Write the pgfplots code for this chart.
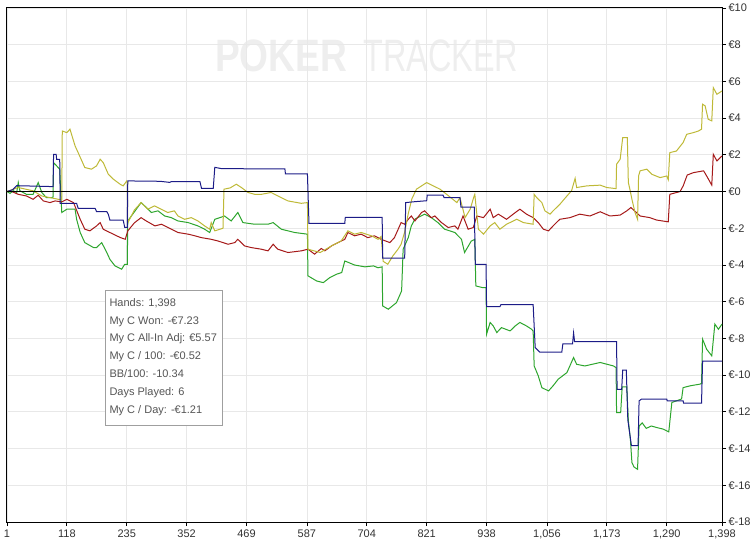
\documentclass[border=0pt]{standalone}
\usepackage{fontspec}
\setmainfont{Liberation Sans}
\usepackage{pgfplots}
\pgfplotsset{compat=1.18}
\definecolor{cBlue}{RGB}{28,28,135}
\definecolor{cGreen}{RGB}{45,165,45}
\definecolor{cRed}{RGB}{165,25,25}
\definecolor{cYel}{RGB}{190,185,55}
\definecolor{gridc}{RGB}{232,232,232}
\definecolor{wm}{RGB}{238,238,238}
\definecolor{lab}{RGB}{50,50,50}
\definecolor{stat}{RGB}{85,85,85}
\begin{document}
\begin{tikzpicture}
\useasboundingbox (-7bp,-23bp) rectangle (745bp,522bp);
\node[anchor=south west, inner sep=0, text=wm] at (208bp,450.3bp) {\resizebox{132bp}{31.7bp}{\bfseries POKER}};
\node[anchor=south west, inner sep=0, text=wm] at (356bp,450.3bp) {\resizebox{155bp}{31.7bp}{TRACKER}};
\begin{axis}[
  scale only axis, width=715bp, height=514bp,
  at={(0,0)}, anchor=south west,
  xmin=1, xmax=1398, ymin=-18, ymax=10,
  xtick={1,118,235,352,469,587,704,821,938,1056,1173,1290,1398},
  xticklabels={1,118,235,352,469,587,704,821,938,{1,056},{1,173},{1,290},{1,398}},
  ytick={-18,-16,-14,-12,-10,-8,-6,-4,-2,0,2,4,6,8,10},
  yticklabels={€-18,€-16,€-14,€-12,€-10,€-8,€-6,€-4,€-2,€0,€2,€4,€6,€8,€10},
  xtick pos=left, ytick pos=right,
  yticklabel pos=right,
  tick align=outside, major tick length=4bp,
  tick style={black, line width=0.8bp},
  grid=major, grid style={line width=0.8bp, color=gridc},
  axis line style={black, line width=1bp},
  ticklabel style={font=\fontsize{11bp}{13bp}\selectfont, text=lab},
  yticklabel style={anchor=west, xshift=-1bp},
]
\addplot[cGreen, line width=1bp] coordinates {(1,0) (7,-0.1) (13,0.05) (20,-0.05) (23,0.49) (26,0.05) (39,-0.15) (52,-0.15) (62,0.49) (69,-0.05) (78,-0.33) (88,-0.33) (91,-0.3) (92,1.58) (98,1.4) (104,1.22) (108,-1.14) (118,-0.96) (134,-0.96) (137,-1.51) (144,-2.23) (153,-2.78) (170,-3.05) (176,-3.05) (186,-2.78) (196,-3.32) (202,-3.69) (212,-4.05) (225,-4.23) (231,-3.96) (236,-3.96) (237,-1.6) (250,-1.1) (263,-0.6) (270,-0.78) (283,-1.14) (296,-1.05) (309,-1.33) (322,-1.42) (335,-1.6) (355,-1.69) (374,-1.87) (387,-2.05) (397,-2.23) (407,-1.51) (417,-1.42) (426,-1.33) (439,-1.6) (452,-1.14) (462,-1.69) (485,-1.78) (511,-1.78) (521,-1.69) (537,-2.05) (563,-2.23) (588,-2.32) (589,-4.59) (606,-4.87) (619,-4.96) (632,-4.68) (645,-4.5) (655,-4.41) (661,-3.78) (680,-4.0) (700,-4.1) (717,-4.05) (726,-4.15) (734,-4.1) (735,-6.23) (746,-6.41) (762,-6.05) (772,-5.41) (775,-3.14) (785,-2.51) (791,-1.87) (798,-1.5) (817,-1.23) (830,-1.42) (843,-1.69) (856,-2.05) (876,-2.23) (889,-2.6) (895,-3.32) (908,-2.7) (915,-2.6) (917,-5.14) (930,-5.23) (937,-5.23) (938,-7.77) (945,-7.13) (951,-7.32) (958,-7.68) (967,-7.41) (984,-7.59) (994,-7.32) (1003,-7.13) (1016,-7.32) (1026,-7.5) (1029,-7.6) (1031,-9.5) (1039,-10.04) (1046,-10.68) (1059,-10.86) (1068,-10.58) (1078,-10.22) (1095,-9.86) (1108,-9.04) (1114,-9.41) (1130,-9.5) (1160,-9.31) (1186,-9.5) (1191,-9.59) (1192,-12.04) (1200,-12.04) (1203,-10.64) (1212,-10.64) (1215,-12.48) (1219,-13.5) (1222,-14.76) (1226,-15.0) (1233,-15.13) (1236,-12.77) (1242,-12.6) (1250,-12.9) (1260,-12.77) (1270,-12.85) (1283,-12.94) (1294,-13.09) (1300,-11.49) (1309,-11.4) (1319,-11.3) (1322,-10.68) (1336,-10.58) (1355,-10.49) (1358,-10.45) (1360,-8.04) (1368,-8.59) (1378,-8.95) (1384,-7.22) (1391,-7.5) (1398,-7.22)};
\addplot[cRed, line width=1bp] coordinates {(1,0) (7,0.04) (23,-0.15) (39,-0.24) (52,-0.42) (62,-0.2) (72,-0.51) (85,-0.6) (95,-0.51) (108,-0.56) (118,-0.42) (131,-0.6) (144,-1.51) (153,-2.05) (163,-2.14) (176,-1.87) (183,-1.69) (189,-2.05) (202,-2.23) (222,-2.5) (232,-2.6) (237,-2.14) (250,-1.7) (263,-1.42) (273,-1.6) (290,-1.87) (303,-1.78) (322,-2.05) (335,-2.23) (355,-2.32) (368,-2.41) (381,-2.51) (400,-2.6) (413,-2.69) (433,-2.87) (446,-2.78) (452,-2.6) (465,-2.96) (478,-3.05) (498,-3.14) (511,-3.23) (521,-2.87) (530,-3.14) (550,-3.32) (576,-3.23) (589,-3.14) (602,-3.41) (615,-3.1) (622,-3.23) (635,-2.96) (648,-2.78) (661,-2.6) (667,-2.23) (680,-2.41) (693,-2.32) (706,-2.51) (719,-2.41) (732,-2.6) (749,-2.78) (758,-2.51) (771,-1.69) (778,-1.78) (785,-1.51) (791,-1.33) (798,-1.6) (811,-1.14) (817,-1.05) (830,-1.42) (837,-1.33) (850,-1.69) (863,-1.96) (876,-1.87) (882,-2.05) (892,-1.33) (902,-2.05) (912,-1.96) (919,-1.33) (932,-1.42) (945,-0.96) (951,-1.42) (961,-1.23) (977,-1.51) (990,-1.23) (1003,-0.96) (1016,-1.23) (1029,-1.42) (1039,-1.69) (1049,-2.05) (1059,-2.14) (1068,-1.87) (1081,-1.51) (1101,-1.42) (1120,-1.23) (1140,-1.33) (1160,-1.1) (1179,-1.33) (1199,-1.28) (1212,-1.05) (1220,-0.87) (1231,-1.15) (1238,-1.33) (1257,-1.42) (1270,-1.55) (1293,-1.65) (1296,-0.15) (1316,0.0) (1322,0.3) (1330,0.9) (1342,1.03) (1362,1.13) (1368,0.85) (1378,0.35) (1381,2.03) (1388,1.67) (1398,1.94)};
\addplot[cYel, line width=1bp] coordinates {(1,0) (23,0.22) (52,0.04) (69,-0.24) (85,-0.33) (101,-0.42) (108,-0.42) (109,3.3) (118,3.21) (124,3.4) (134,2.49) (140,2.12) (153,1.31) (166,1.22) (176,1.4) (183,1.76) (189,1.58) (199,0.94) (209,0.67) (222,0.4) (228,0.31) (235,0.58) (236,0.5) (237,-1.7) (250,-1.0) (263,-0.6) (276,-0.96) (289,-0.78) (302,-0.96) (315,-1.14) (328,-1.05) (335,-1.33) (348,-1.51) (361,-1.42) (374,-1.6) (387,-1.87) (397,-2.05) (400,-1.69) (407,-2.14) (423,-2.0) (425,0.13) (437,0.2) (449,0.4) (459,0.22) (472,-0.05) (485,-0.15) (498,-0.15) (517,-0.05) (537,-0.33) (550,-0.51) (576,-0.64) (588,-0.6) (589,-3.14) (613,-3.32) (635,-2.96) (654,-2.69) (667,-2.14) (680,-2.32) (693,-2.23) (713,-2.41) (726,-2.6) (732,-2.45) (736,-3.8) (745,-3.96) (755,-3.5) (765,-3.14) (771,-2.87) (778,-2.2) (785,-1.2) (792,-0.4) (801,0.13) (821,0.49) (834,0.31) (847,0.13) (860,-0.15) (880,-0.6) (886,-0.33) (896,-1.42) (906,-0.96) (913,-0.3) (915,-0.15) (922,-2.05) (932,-2.32) (945,-1.87) (954,-1.69) (964,-2.05) (977,-1.78) (997,-1.51) (1010,-1.69) (1029,-1.78) (1031,-0.15) (1036,-0.33) (1046,-0.6) (1052,-1.05) (1062,-1.23) (1068,-1.05) (1081,-0.7) (1095,-0.24) (1104,0.04) (1111,0.72) (1114,0.22) (1134,0.31) (1160,0.35) (1173,0.22) (1191,0.16) (1192,1.49) (1199,1.76) (1204,2.94) (1213,2.94) (1215,0.49) (1218,0.13) (1222,-0.42) (1228,-1.14) (1233,-1.51) (1235,0.85) (1238,1.13) (1251,1.22) (1261,0.94) (1277,0.76) (1290,0.85) (1293,0.64) (1296,2.12) (1309,2.21) (1322,2.67) (1329,3.12) (1342,3.21) (1352,3.3) (1358,3.4) (1360,4.76) (1365,4.67) (1371,3.94) (1378,3.85) (1381,5.66) (1388,5.3) (1398,5.48)};
\addplot[cBlue, line width=1bp] coordinates {(1,0) (12,0.1) (20,0.32) (50,0.3) (91,0.27) (92,2.03) (97,2.03) (98,1.76) (104,1.76) (105,-0.64) (137,-0.64) (140,-0.91) (173,-0.91) (176,-1.09) (196,-1.09) (199,-1.24) (202,-1.55) (228,-1.55) (231,-1.95) (236,-1.95) (237,0.58) (300,0.56) (319,0.5) (322,0.54) (378,0.54) (381,0.18) (404,0.18) (407,1.32) (420,1.25) (544,1.23) (545,0.96) (588,0.96) (591,-1.73) (661,-1.73) (662,-1.40) (734,-1.40) (735,-3.63) (778,-3.63) (780,-0.6) (798,-0.55) (821,-0.5) (822,-0.2) (853,-0.2) (855,-0.33) (886,-0.33) (888,-0.85) (914,-0.85) (916,-3.96) (937,-3.96) (938,-6.27) (964,-6.27) (966,-6.16) (1029,-6.16) (1033,-8.5) (1042,-8.75) (1085,-8.75) (1087,-8.3) (1106,-8.3) (1108,-7.7) (1110,-8.17) (1192,-8.17) (1193,-10.77) (1202,-10.77) (1204,-9.72) (1211,-9.72) (1214,-12.44) (1221,-13.84) (1234,-13.84) (1236,-11.4) (1241,-11.3) (1290,-11.3) (1291,-11.4) (1322,-11.4) (1323,-11.53) (1358,-11.53) (1360,-9.23) (1398,-9.23)};
\addplot[black, line width=1bp] coordinates {(1,0) (1398,0)};
\end{axis}
\draw[gray!75, line width=1bp, fill=white] (98.7bp,96bp) rectangle (215.7bp,231bp);
\begin{scope}[every node/.style={anchor=base west, inner sep=0, text=stat, font=\fontsize{11bp}{13bp}\selectfont}]
\node at (102.3bp,215.7bp) {Hands: 1,398};
\node at (102.3bp,197.9bp) {My C Won: -€7.23};
\node at (102.3bp,180.0bp) {My C All-In Adj: €5.57};
\node at (102.3bp,162.2bp) {My C / 100: -€0.52};
\node at (102.3bp,144.4bp) {BB/100: -10.34};
\node at (102.3bp,126.5bp) {Days Played: 6};
\node at (102.3bp,108.7bp) {My C / Day: -€1.21};
\end{scope}
\end{tikzpicture}
\end{document}
